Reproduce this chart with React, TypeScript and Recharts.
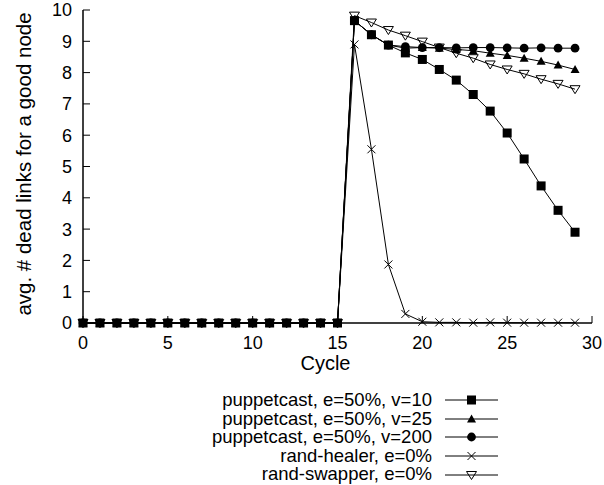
import React from 'react';
import { LineChart, Line, XAxis, YAxis, Legend } from 'recharts';

const cycles = [0, 1, 2, 3, 4, 5, 6, 7, 8, 9, 10, 11, 12, 13, 14, 15, 16, 17, 18, 19, 20, 21, 22, 23, 24, 25, 26, 27, 28, 29];
const puppetV10 = [0, 0, 0, 0, 0, 0, 0, 0, 0, 0, 0, 0, 0, 0, 0, 0, 9.66, 9.21, 8.88, 8.63, 8.42, 8.1, 7.76, 7.3, 6.77, 6.07, 5.24, 4.38, 3.6, 2.9];
const puppetV25 = [0, 0, 0, 0, 0, 0, 0, 0, 0, 0, 0, 0, 0, 0, 0, 0, 9.66, 9.21, 8.88, 8.78, 8.8, 8.78, 8.74, 8.7, 8.62, 8.55, 8.46, 8.36, 8.24, 8.1];
const puppetV200 = [0, 0, 0, 0, 0, 0, 0, 0, 0, 0, 0, 0, 0, 0, 0, 0, 9.66, 9.21, 8.88, 8.83, 8.8, 8.8, 8.79, 8.8, 8.8, 8.79, 8.78, 8.79, 8.78, 8.78];
const randHealer = [0, 0, 0, 0, 0, 0, 0, 0, 0, 0, 0, 0, 0, 0, 0, 0, 8.9, 5.55, 1.87, 0.29, 0.04, 0.02, 0.02, 0.01, 0.02, 0.01, 0.01, 0.01, 0.01, 0.01];
const randSwapper = [0, 0, 0, 0, 0, 0, 0, 0, 0, 0, 0, 0, 0, 0, 0, 0, 9.82, 9.6, 9.36, 9.18, 8.99, 8.8, 8.62, 8.46, 8.26, 8.1, 7.96, 7.79, 7.64, 7.47];

const seriesNames = [
  'puppetcast, e=50%, v=10',
  'puppetcast, e=50%, v=25',
  'puppetcast, e=50%, v=200',
  'rand-healer, e=0%',
  'rand-swapper, e=0%',
];
const seriesKeys = ['v10', 'v25', 'v200', 'healer', 'swapper'];
const seriesMarkers = ['square', 'triUp', 'circle', 'cross', 'triDown'];

const xTicks = [0, 5, 10, 15, 20, 25, 30];
const yTicks = [0, 1, 2, 3, 4, 5, 6, 7, 8, 9, 10];

const xLabel = 'Cycle';
const yLabel = 'avg. # dead links for a good node';

const FONT = '"Liberation Sans", Arial, Helvetica, sans-serif';
const TICK_LEN = 7;
const LEFT_MARGIN = 11;
const BOTTOM_MARGIN = 10;

const allValues = [puppetV10, puppetV25, puppetV200, randHealer, randSwapper];
const data = cycles.map((c, i) => {
  const row: Record<string, number> = { cycle: c };
  seriesKeys.forEach((k, j) => {
    row[k] = allValues[j][i];
  });
  return row;
});

function Marker({ kind, cx, cy }: { kind: string; cx: number; cy: number }) {
  if (cx == null || cy == null) return null;
  switch (kind) {
    case 'square':
      return <rect x={cx - 4.5} y={cy - 4.5} width={9} height={9} fill="#000" />;
    case 'triUp':
      return <polygon points={`${cx},${cy - 4.5} ${cx + 4.5},${cy + 3.5} ${cx - 4.5},${cy + 3.5}`} fill="#000" />;
    case 'circle':
      return <circle cx={cx} cy={cy} r={4.4} fill="#000" />;
    case 'cross':
      return (
        <path
          d={`M${cx - 4},${cy - 4}L${cx + 4},${cy + 4}M${cx - 4},${cy + 4}L${cx + 4},${cy - 4}`}
          stroke="#000"
          strokeWidth={1}
          fill="none"
        />
      );
    case 'triDown':
      return (
        <polygon
          points={`${cx - 5},${cy - 3.5} ${cx + 5},${cy - 3.5} ${cx},${cy + 4.5}`}
          fill="#fff"
          fillOpacity={0}
          stroke="#000"
          strokeWidth={1}
        />
      );
    default:
      return null;
  }
}

const BottomTick = (props: any) => {
  const { x, y, payload } = props;
  const axisY = y - BOTTOM_MARGIN;
  return (
    <g>
      <line x1={x} x2={x} y1={axisY} y2={axisY - TICK_LEN} stroke="#000" strokeWidth={1} />
      <text x={x} y={axisY + 26} textAnchor="middle" fontFamily={FONT} fontSize={18} fill="#000">
        {payload.value}
      </text>
    </g>
  );
};

const TopTick = (props: any) => {
  const { x, y } = props;
  return <line x1={x} x2={x} y1={y} y2={y + TICK_LEN} stroke="#000" strokeWidth={1} />;
};

const LeftTick = (props: any) => {
  const { x, y, payload } = props;
  const axisX = x + LEFT_MARGIN;
  return (
    <g>
      <line x1={axisX} x2={axisX + TICK_LEN} y1={y} y2={y} stroke="#000" strokeWidth={1} />
      <text x={x} y={y} dy="0.36em" textAnchor="end" fontFamily={FONT} fontSize={18} fill="#000">
        {payload.value}
      </text>
    </g>
  );
};

const RightTick = (props: any) => {
  const { x, y } = props;
  return <line x1={x} x2={x - TICK_LEN} y1={y} y2={y} stroke="#000" strokeWidth={1} />;
};

const renderLegend = () => (
  <div style={{ fontFamily: FONT, fontSize: 18.5, color: '#000' }}>
    {seriesNames.map((name, i) => (
      <div key={name} style={{ display: 'flex', alignItems: 'center', height: 18.6 }}>
        <span style={{ width: 432, textAlign: 'right', whiteSpace: 'nowrap', lineHeight: '18.6px' }}>{name}</span>
        <svg width={70} height={18} style={{ marginLeft: 13, display: 'block' }}>
          <line x1={0} x2={53} y1={9} y2={9} stroke="#000" strokeWidth={1} />
          <Marker kind={seriesMarkers[i]} cx={26.5} cy={9} />
        </svg>
      </div>
    ))}
  </div>
);

export default function App() {
  return (
    <div style={{ position: 'absolute', left: 0, top: 0, background: '#fff' }}>
      <LineChart width={604} height={485} data={data} margin={{ top: 10, right: 12, bottom: 102, left: 0 }}>
        <XAxis
          dataKey="cycle"
          type="number"
          domain={[0, 30]}
          ticks={xTicks}
          interval={0}
          height={60}
          axisLine={{ stroke: '#000', strokeWidth: 1.5 }}
          tickLine={false}
          tickSize={0}
          tickMargin={BOTTOM_MARGIN}
          tick={<BottomTick />}
          label={({ viewBox }: any) => (
            <text
              x={viewBox.x + viewBox.width / 2 - 12}
              y={viewBox.y + 47}
              textAnchor="middle"
              fontFamily={FONT}
              fontSize={20}
              fill="#000"
            >
              {xLabel}
            </text>
          )}
        />
        <XAxis
          xAxisId="top"
          orientation="top"
          dataKey="cycle"
          type="number"
          domain={[0, 30]}
          ticks={xTicks}
          interval={0}
          height={0}
          axisLine={{ stroke: '#000', strokeWidth: 1.5 }}
          tickLine={false}
          tickSize={0}
          tickMargin={0}
          tick={<TopTick />}
        />
        <YAxis
          type="number"
          domain={[0, 10]}
          ticks={yTicks}
          interval={0}
          width={83}
          axisLine={{ stroke: '#000', strokeWidth: 1.5 }}
          tickLine={false}
          tickSize={0}
          tickMargin={LEFT_MARGIN}
          tick={<LeftTick />}
          label={({ viewBox }: any) => {
            const cx = viewBox.x + 23;
            const cy = viewBox.y + viewBox.height / 2 - 2.5;
            return (
              <text
                x={cx}
                y={cy}
                transform={`rotate(-90, ${cx}, ${cy})`}
                textAnchor="middle"
                dominantBaseline="central"
                fontFamily={FONT}
                fontSize={20.5}
                fill="#000"
              >
                {yLabel}
              </text>
            );
          }}
        />
        <YAxis
          yAxisId="right"
          orientation="right"
          type="number"
          domain={[0, 10]}
          ticks={yTicks}
          interval={0}
          width={0}
          axisLine={{ stroke: '#000', strokeWidth: 1.5 }}
          tickLine={false}
          tickSize={0}
          tickMargin={0}
          tick={<RightTick />}
        />
        {seriesKeys.map((k, i) => (
          <Line
            key={k}
            dataKey={k}
            name={seriesNames[i]}
            type="linear"
            stroke="#000"
            strokeWidth={1}
            isAnimationActive={false}
            activeDot={false}
            dot={(p: any) => <Marker key={`${k}-${p.index}`} kind={seriesMarkers[i]} cx={p.cx} cy={p.cy} />}
          />
        ))}
        <Legend
          layout="horizontal"
          verticalAlign="middle"
          align="center"
          width={604}
          wrapperStyle={{ left: 0, top: 391, width: 604, margin: 0, padding: 0 }}
          content={renderLegend}
        />
      </LineChart>
    </div>
  );
}
